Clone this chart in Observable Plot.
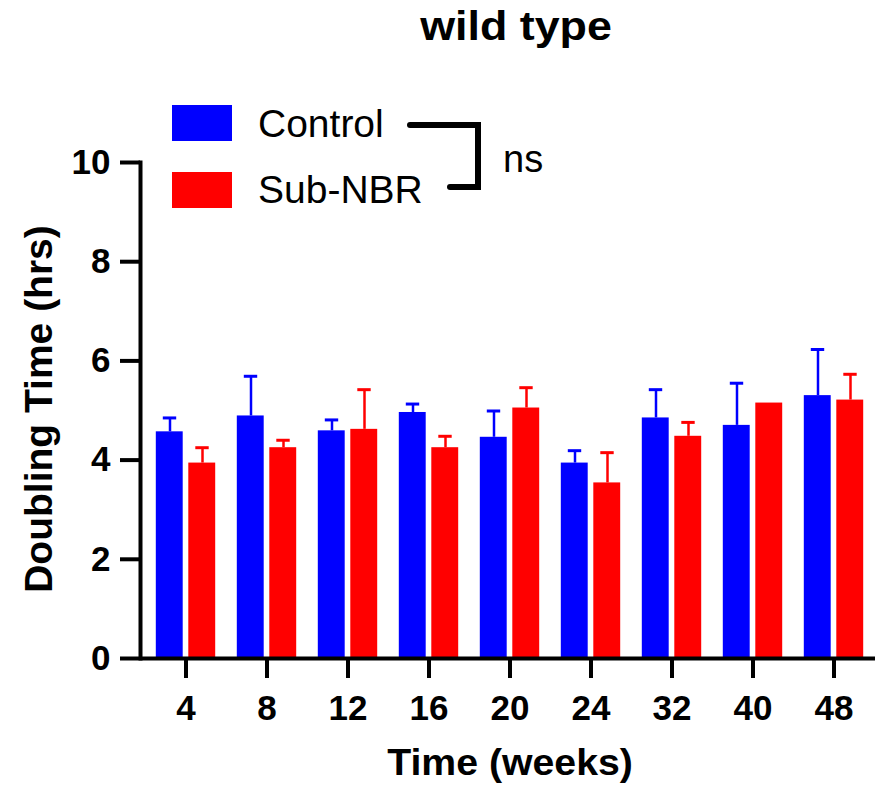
<!DOCTYPE html>
<html>
<head>
<meta charset="utf-8">
<script src="https://cdn.jsdelivr.net/npm/d3@7"></script>
<script src="https://cdn.jsdelivr.net/npm/@observablehq/plot@0.6"></script>
<style>
  html, body { margin: 0; padding: 0; background: #fff; }
  #wrap { position: relative; width: 875px; height: 790px; font-family: "Liberation Sans", Arial, sans-serif; color: #000; }
  #chart { position: absolute; left: 0; top: 0; }
  .lbl { position: absolute; white-space: nowrap; line-height: 1; }
</style>
</head>
<body>
<div id="wrap">
  <div id="chart"></div>
  <div class="lbl" id="title" style="font-size:40px;font-weight:bold;left:516px;top:6px;transform:translateX(-50%) scaleX(1.12);">wild type</div>
  <div style="position:absolute;left:172px;top:105px;width:60px;height:36px;background:#0000ff;"></div>
  <div style="position:absolute;left:172px;top:172px;width:60px;height:36px;background:#ff0000;"></div>
  <div class="lbl" style="font-size:39px;left:258px;top:104px;">Control</div>
  <div class="lbl" style="font-size:39px;left:258px;top:170px;">Sub-NBR</div>
  <div style="position:absolute;left:407px;top:122px;width:74px;height:6px;background:#000;border-radius:3px 0 0 3px;"></div>
  <div style="position:absolute;left:475px;top:122px;width:6px;height:68px;background:#000;"></div>
  <div style="position:absolute;left:447px;top:184px;width:34px;height:6px;background:#000;border-radius:3px 0 0 3px;"></div>
  <div class="lbl" style="font-size:38px;left:503px;top:140px;">ns</div>
  <div class="lbl" style="font-size:39px;font-weight:bold;left:38px;top:409px;transform:translate(-50%,-50%) rotate(-90deg);">Doubling Time (hrs)</div>
  <div class="lbl" style="font-size:36px;font-weight:bold;left:510px;top:745px;transform:translateX(-50%) scaleX(1.09);">Time (weeks)</div>
</div>
<script>
const weeks = ["4", "8", "12", "16", "20", "24", "32", "40", "48"];
const controlMean = [4.57, 4.89, 4.59, 4.96, 4.46, 3.94, 4.85, 4.70, 5.30];
const controlSD   = [0.28, 0.80, 0.22, 0.17, 0.53, 0.25, 0.57, 0.85, 0.93];
const subMean     = [3.94, 4.25, 4.62, 4.25, 5.05, 3.54, 4.48, 5.15, 5.21];
const subSD       = [0.31, 0.15, 0.80, 0.23, 0.41, 0.61, 0.28, 0.00, 0.52];
const yTicks = [0, 2, 4, 6, 8, 10];

const controlData = weeks.map((w, i) => ({week: w, mean: controlMean[i], sd: controlSD[i]}));
const subData = weeks.map((w, i) => ({week: w, mean: subMean[i], sd: subSD[i]}));
const hasErr = d => d.sd > 0;

const chart = Plot.plot({
  width: 875,
  height: 790,
  marginTop: 162,
  marginBottom: 132,
  marginLeft: 140,
  marginRight: 0,
  style: {fontFamily: "'Liberation Sans', Arial, sans-serif", color: "#000", background: "transparent", overflow: "visible"},
  x: {domain: weeks, range: [142, 877], padding: 0, label: null},
  y: {domain: [0, 10], label: null},
  marks: [
    Plot.barY(controlData, {x: "week", y: "mean", fill: "#0000ff", insetLeft: 10.8, insetRight: 43.3}),
    Plot.barY(subData, {x: "week", y: "mean", fill: "#ff0000", insetLeft: 43.3, insetRight: 10.8}),
    Plot.ruleX(controlData.filter(hasErr), {x: "week", y1: "mean", y2: d => d.mean + d.sd, dx: -16, stroke: "#0000ff", strokeWidth: 2.5}),
    Plot.tickY(controlData.filter(hasErr), {x: "week", y: d => d.mean + d.sd, insetLeft: 17.8, insetRight: 49.8, stroke: "#0000ff", strokeWidth: 3}),
    Plot.ruleX(subData.filter(hasErr), {x: "week", y1: "mean", y2: d => d.mean + d.sd, dx: 16.5, stroke: "#ff0000", strokeWidth: 2.5}),
    Plot.tickY(subData.filter(hasErr), {x: "week", y: d => d.mean + d.sd, insetLeft: 50.3, insetRight: 17.3, stroke: "#ff0000", strokeWidth: 3}),
    Plot.ruleY([0], {stroke: "#000", strokeWidth: 4}),
    Plot.frame({anchor: "left", stroke: "#000", strokeWidth: 4}),
    Plot.axisY({ticks: yTicks, tickSize: 20, tickPadding: 10, fontSize: 35, fontWeight: "bold", strokeWidth: 4, label: null}),
    Plot.axisX({tickSize: 20, tickPadding: 17, fontSize: 35, fontWeight: "bold", strokeWidth: 4, label: null})
  ]
});
document.getElementById("chart").appendChild(chart);
</script>
</body>
</html>
